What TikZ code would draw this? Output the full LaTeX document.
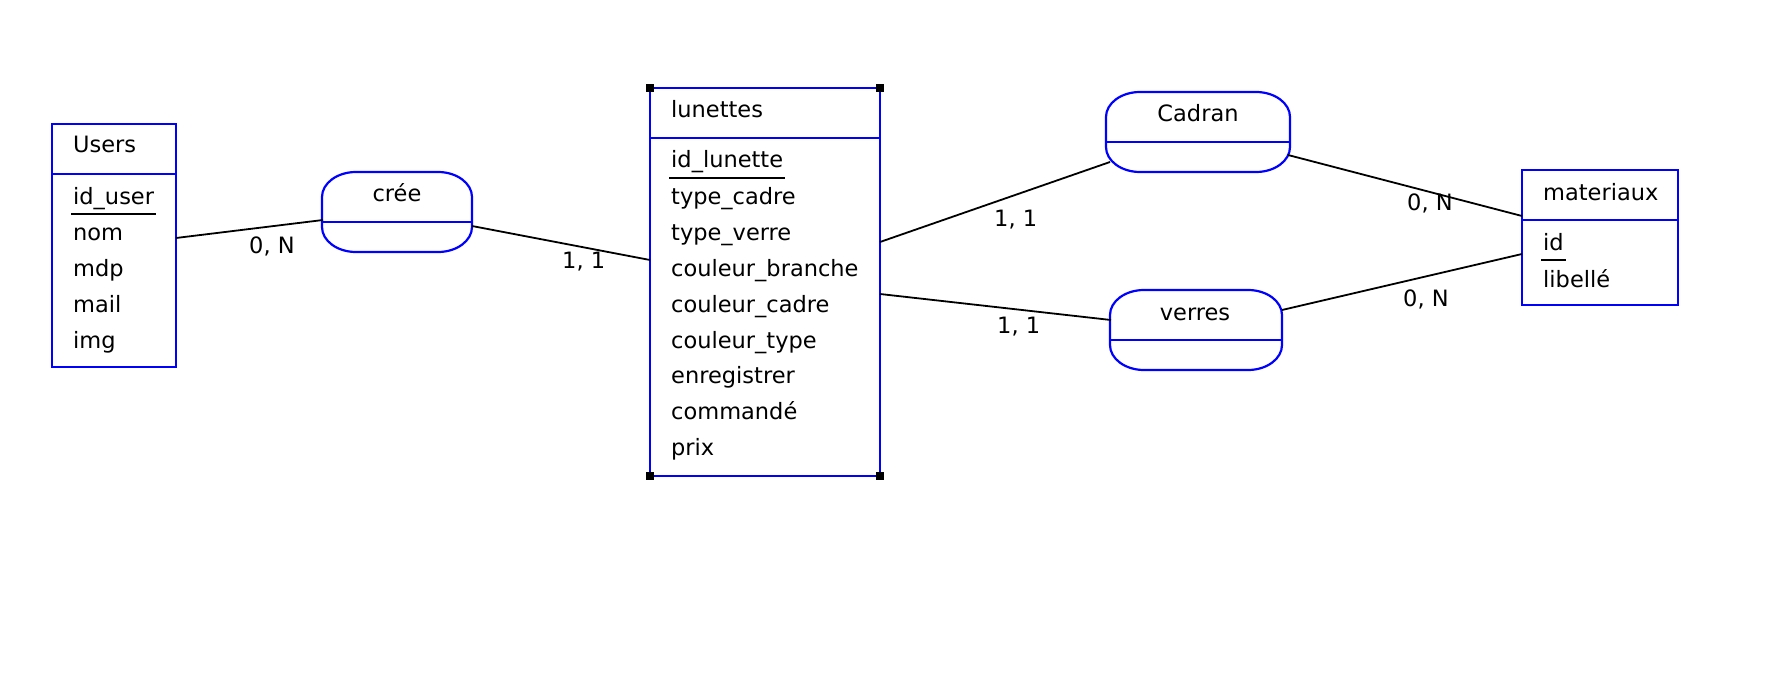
\documentclass[tikz,border=0pt]{standalone}
\usepackage{fontspec}
\setmainfont{DejaVu Sans}
\usetikzlibrary{calc}
\newcommand{\rxv}{34}
\newcommand{\ryv}{25}
\newcommand{\kxv}{18.8}
\newcommand{\kyv}{13.8}
\newcommand{\RelOutline}[1]{%
  \draw[blueline] ($(#1.north west)+(\rxv,0)$) -- ($(#1.north east)+(-\rxv,0)$)
    .. controls ($(#1.north east)+(-\rxv+\kxv,0)$) and ($(#1.north east)+(0,\ryv-\kyv)$) .. ($(#1.north east)+(0,\ryv)$)
    -- ($(#1.south east)+(0,-\ryv)$)
    .. controls ($(#1.south east)+(0,-\ryv+\kyv)$) and ($(#1.south east)+(-\rxv+\kxv,0)$) .. ($(#1.south east)+(-\rxv,0)$)
    -- ($(#1.south west)+(\rxv,0)$)
    .. controls ($(#1.south west)+(\rxv-\kxv,0)$) and ($(#1.south west)+(0,-\ryv+\kyv)$) .. ($(#1.south west)+(0,-\ryv)$)
    -- ($(#1.north west)+(0,\ryv)$)
    .. controls ($(#1.north west)+(0,\ryv-\kyv)$) and ($(#1.north west)+(\rxv-\kxv,0)$) .. ($(#1.north west)+(\rxv,0)$)
    -- cycle;
  \draw[blueline] ($(#1.west)+(0,10)$) -- ($(#1.east)+(0,10)$);}
\newcommand{\EntDivider}[1]{%
  \draw[blueline] ($(#1.north west)+(0,50)$) -- ($(#1.north east)+(0,50)$);}
\newcommand{\KeyLine}[1]{%
  \draw[black, line width=1.8bp] ($(#1.base west)+(-2,10)$) -- ($(#1.base east)+(2,10)$);}
\begin{document}
\begin{tikzpicture}[x=1bp,y=-1bp,
  every node/.style={font=\fontsize{22.5bp}{27bp}\selectfont},
  entbox/.style={draw=blue, line width=2.2bp, fill=white, rectangle, inner sep=0pt, outer sep=0pt},
  relbox/.style={draw=none, rectangle, inner sep=0pt, outer sep=0pt},
  blueline/.style={draw=blue, line width=2.2bp},
  link/.style={draw=black, line width=1.8bp},
  txt/.style={anchor=base west, inner sep=0pt},
  ctxt/.style={anchor=base, inner sep=0pt},
  handle/.style={fill=black, draw=none, minimum size=8bp, inner sep=0pt, rectangle}
]
\fill[white] (0,0) rectangle (1770,696);
\useasboundingbox (0,0) rectangle (1770,696);

% entities
\node[entbox, minimum width=124bp, minimum height=243bp] (users) at (114,245.5) {};
\node[entbox, minimum width=230bp, minimum height=388bp] (lunettes) at (765,282) {};
\node[entbox, minimum width=156bp, minimum height=135bp] (materiaux) at (1600,237.5) {};
\EntDivider{users}
\EntDivider{lunettes}
\EntDivider{materiaux}

% relations
\node[relbox, minimum width=150bp, minimum height=80bp] (cree) at (397,212) {};
\node[relbox, minimum width=184bp, minimum height=80bp] (cadran) at (1198,132) {};
\node[relbox, minimum width=172bp, minimum height=80bp] (verres) at (1196,330) {};
\RelOutline{cree}
\RelOutline{cadran}
\RelOutline{verres}

% handles
\node[handle] (h1) at (lunettes.north west) {};
\node[handle] (h2) at (lunettes.north east) {};
\node[handle] (h3) at (lunettes.south west) {};
\node[handle] (h4) at (lunettes.south east) {};

% Users texts
\node[txt] (u0) at (73,153) {Users};
\node[txt] (u1) at (73,204) {id\_user};
\node[txt] (u2) at (73,240) {nom};
\node[txt] (u3) at (73,276) {mdp};
\node[txt] (u4) at (73,312) {mail};
\node[txt] (u5) at (73,348) {img};
\KeyLine{u1}

% lunettes texts
\node[txt] (l0) at (671,118) {lunettes};
\node[txt] (l1) at (671,168) {id\_lunette};
\node[txt] (l2) at (671,204) {type\_cadre};
\node[txt] (l3) at (671,240) {type\_verre};
\node[txt] (l4) at (671,276) {couleur\_branche};
\node[txt] (l5) at (671,312) {couleur\_cadre};
\node[txt] (l6) at (671,348) {couleur\_type};
\node[txt] (l7) at (671,383) {enregistrer};
\node[txt] (l8) at (671,419) {commandé};
\node[txt] (l9) at (671,455) {prix};
\KeyLine{l1}

% materiaux texts
\node[txt] (m0) at (1543,200) {materiaux};
\node[txt] (m1) at (1543,250) {id};
\node[txt] (m2) at (1543,287) {libellé};
\KeyLine{m1}

% relation texts
\node[ctxt] (ct) at (397,201) {crée};
\node[ctxt] (cat) at (1198,122) {Cadran};
\node[ctxt] (vt) at (1195,320) {verres};

% connectors
\draw[link] ($(users.east)+(0,-7.5)$) -- ($(cree.west)+(1,8)$);
\draw[link] ($(cree.east)+(0,14)$) -- ($(lunettes.west)+(0,-22)$);
\draw[link] ($(lunettes.east)+(0,-40)$) -- ($(cadran.west)+(4,30)$);
\draw[link] ($(cadran.east)+(-2,23)$) -- ($(materiaux.west)+(0,-21.5)$);
\draw[link] ($(lunettes.east)+(0,12)$) -- ($(verres.west)+(1,-10)$);
\draw[link] ($(verres.east)+(0,-20)$) -- ($(materiaux.west)+(0,16.5)$);

% cardinalities
\node[txt] (c1) at (249,253) {0, N};
\node[txt] (c2) at (562,268) {1, 1};
\node[txt] (c3) at (994,226) {1, 1};
\node[txt] (c4) at (997,333) {1, 1};
\node[txt] (c5) at (1407,210) {0, N};
\node[txt] (c6) at (1403,306) {0, N};
\end{tikzpicture}
\end{document}
